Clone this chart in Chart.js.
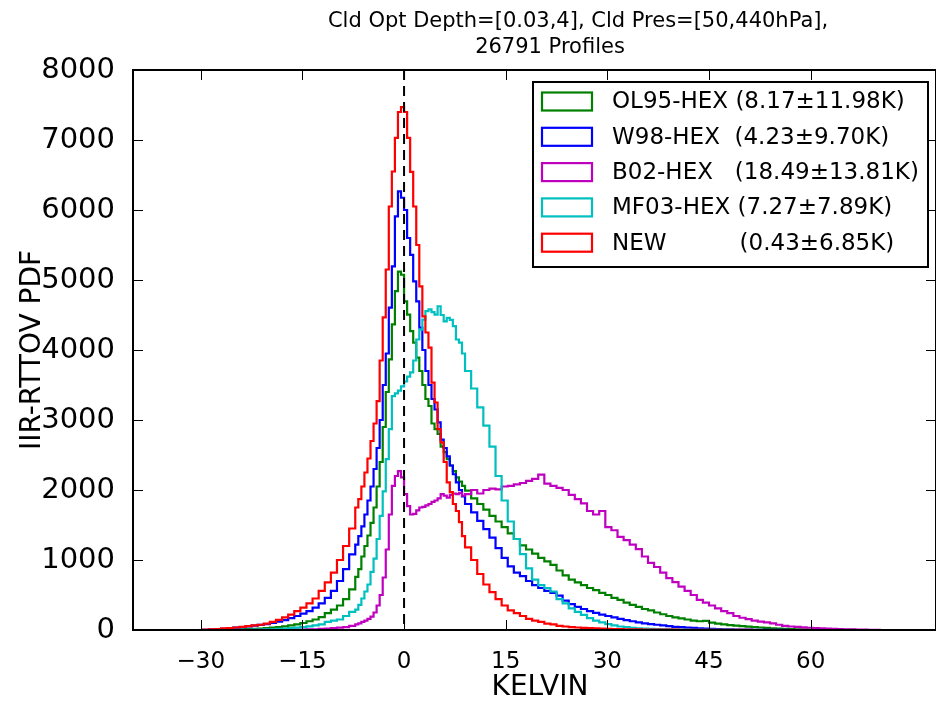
<!doctype html>
<html>
<head>
<script src="https://cdn.jsdelivr.net/npm/chart.js@4"></script>
<style>
  html, body { margin: 0; padding: 0; background: #fff; overflow: hidden; }
  #wrap { width: 936px; height: 702px; }
</style>
</head>
<body>
<div id="wrap"><canvas id="canvas" width="936" height="702"></canvas></div>
<script>
// bin edges (K): coarse tails, fine core
const binEdges = [
  -29.7, -28.8, -27.9, -27, -26.1, -25.2, -24.3, -23.4, -22.5, -21.6, -20.7, -19.8, -18.9,
  -18, -17.1, -16.2, -15.3, -14.4, -13.5, -12.6, -11.7, -10.8, -9.9, -9, -8.1,
  -7.2, -6.75, -6.3, -5.85, -5.4, -4.95, -4.5, -4.05, -3.6, -3.15, -2.7, -2.25,
  -1.8, -1.35, -0.9, -0.45, 0, 0.45, 0.9, 1.35, 1.8, 2.25, 2.7, 3.15, 3.6, 4.05,
  4.5, 4.95, 5.4, 5.85, 6.3, 6.75, 7.2, 7.65, 8.1, 8.55,
  9, 9.9, 10.8, 11.7, 12.6, 13.5, 14.4, 15.3, 16.2, 17.1, 18, 18.9, 19.8, 20.7,
  21.6, 22.5, 23.4, 24.3, 25.2, 26.1, 27, 27.9, 28.8, 29.7, 30.6, 31.5, 32.4,
  33.3, 34.2, 35.1, 36, 36.9, 37.8, 38.7, 39.6, 40.5, 41.4, 42.3, 43.2, 44.1,
  45, 45.9, 46.8, 47.7, 48.6, 49.5, 50.4, 51.3, 52.2, 53.1, 54, 54.9, 55.8,
  56.7, 57.6, 58.5, 59.4, 60.3, 61.2, 62.1, 63, 63.9, 64.8, 65.7, 66.6, 67.5,
  68.4, 69.3, 70.2
];

const ol95 = [
  0, 1, 2, 3, 4, 6, 9, 12, 16, 21, 27, 34, 42, 52, 65, 80, 100, 125, 150, 185, 240, 290, 350, 440, 580,
  760, 870, 1050, 1200, 1350, 1530, 1750, 2050, 2400, 2900, 3400, 3865, 4365, 4840, 5120, 5075,
  4695, 4505, 4270, 4105, 3890, 3700, 3500, 3300, 3200, 2950, 2870, 2800, 2620, 2540, 2440, 2350,
  2270, 2180, 2120, 2060,
  1990, 1880, 1800, 1720, 1630, 1550, 1470, 1380, 1300, 1210, 1150, 1090, 1030, 980, 930, 850,
  780, 720, 680, 640, 600, 570, 530, 500, 460, 430, 390, 360, 330, 300, 280, 250, 225, 200, 180,
  165, 150, 135, 125, 130, 105, 90, 80, 70, 62, 55, 48, 42, 36, 30, 25, 21, 17, 14, 11, 9, 7, 5,
  4, 3, 2, 2, 1, 1, 0, 0, 0, 0
];

const w98 = [
  3, 7, 12, 18, 25, 33, 42, 52, 62, 72, 85, 100, 120, 140, 170, 200, 235, 270, 320, 380, 460, 560, 700, 870, 1080,
  1220, 1340, 1480, 1650, 1850, 2050, 2300, 2600, 3000, 3500, 3950, 4605, 5195, 5910, 6265, 6175,
  6000, 5600, 5360, 4980, 4695, 4320, 4000, 3700, 3500, 3300, 3150, 2965, 2720, 2600, 2480, 2350,
  2225, 2110, 2000, 1910,
  1800, 1680, 1560, 1440, 1320, 1170, 1030, 910, 820, 770, 700, 640, 600, 560, 530, 490, 420, 370,
  330, 300, 270, 245, 220, 200, 180, 160, 140, 125, 110, 95, 85, 75, 65, 55, 45, 40, 35, 30, 25,
  20, 16, 13, 10, 8, 6, 5, 4, 3, 2, 2, 1, 1, 1, 0, 0, 0, 0, 0, 0, 0, 0, 0, 0, 0, 0, 0, 0, 0
];

const b02 = [
  0, 0, 0, 0, 0, 0, 0, 0, 1, 1, 1, 1, 2, 2, 3, 4, 6, 8, 11, 15, 20, 26, 33, 42, 60,
  80, 95, 115, 135, 160, 190, 250, 350, 500, 750, 1150, 1650, 2060, 2200, 2270, 2180,
  1940, 1770, 1650, 1660, 1710, 1750, 1760, 1780, 1800, 1830, 1850, 1880, 1940, 1920, 1890, 1930,
  1950, 1940, 1960, 1920,
  1940, 2000, 1950, 2000, 2020, 2010, 2050, 2060, 2080, 2100, 2130, 2160, 2220, 2090, 2060, 2030,
  2000, 1930, 1870, 1810, 1700, 1650, 1700, 1470, 1425, 1330, 1285, 1220, 1155, 1050, 960, 900,
  820, 740, 685, 620, 560, 500, 430, 390, 350, 310, 270, 240, 200, 175, 155, 135, 120, 110, 95,
  75, 60, 50, 45, 38, 32, 28, 24, 20, 17, 14, 11, 8, 6, 4, 2, 1
];

const mf03 = [
  0, 0, 0, 0, 1, 1, 2, 3, 4, 6, 8, 11, 15, 20, 26, 33, 42, 52, 65, 80, 115, 135, 150, 200, 260,
  290, 360, 450, 550, 650, 830, 1020, 1300, 1630, 1980, 2440, 2870, 3340, 3380, 3420, 3480,
  3550, 3620, 3680, 3850, 4150, 4290, 4435, 4555, 4580, 4540, 4505, 4625, 4500, 4410, 4460, 4430,
  4340, 4150, 4105, 3950,
  3700, 3450, 3180, 2920, 2620, 2200, 1850, 1550, 1300, 1085, 880, 720, 640, 600, 550, 440, 380,
  310, 260, 215, 170, 135, 110, 85, 65, 50, 40, 32, 25, 20, 16, 12, 10, 8, 6, 5, 4, 3, 2, 2,
  1, 1, 1, 1, 0, 0, 0, 0, 0, 0, 0, 0, 0, 0, 0, 0, 0, 0, 0, 0, 0, 0, 0, 0, 0, 0, 0, 0
];

const newScheme = [
  4, 8, 14, 22, 28, 36, 45, 55, 65, 75, 90, 115, 145, 180, 220, 270, 320, 380, 450, 560, 680, 820, 1000, 1200, 1450,
  1750, 1870, 2050, 2250, 2450, 2700, 2950, 3270, 3850, 4465, 5150, 6050, 6550, 7030, 7400, 7470,
  7400, 7030, 6545, 6050, 5500, 4910, 4480, 4250, 4035, 3535, 3250, 2870, 2680, 2400, 2110, 1970,
  1800, 1700, 1540, 1340,
  1180, 1000, 800, 650, 540, 440, 350, 280, 240, 200, 160, 135, 115, 90, 80, 60, 50, 42, 36, 30,
  26, 22, 19, 16, 14, 12, 10, 9, 8, 7, 6, 5, 5, 4, 4, 3, 3, 2, 2, 2, 1, 1, 1, 1, 1, 1, 1, 0, 0, 0,
  0, 0, 0, 0, 0, 0, 0, 0, 0, 0, 0, 0, 0, 0, 0, 0, 0, 0
];

const seriesValues = [ol95, w98, b02, mf03, newScheme];
const seriesColors = ['#008000', '#0000ff', '#bf00bf', '#00bfbf', '#ff0000'];
const legendLabels = [
  'OL95-HEX (8.17\u00b111.98K)',
  'W98-HEX  (4.23\u00b19.70K)',
  'B02-HEX   (18.49\u00b113.81K)',
  'MF03-HEX (7.27\u00b17.89K)',
  'NEW          (0.43\u00b16.85K)'
];
const xTicks = [-30, -15, 0, 15, 30, 45, 60];
const titleLines = ['Cld Opt Depth=[0.03,4], Cld Pres=[50,440hPa],', '26791 Profiles'];
const xLabel = 'KELVIN';
const yLabel = 'IIR-RTTOV PDF';

const FONT = "'DejaVu Sans', sans-serif";

// histogram outline: start at 0, one point per bin, drop to 0 at last edge
function stepPoints(values) {
  const pts = [{ x: binEdges[0], y: 0 }];
  values.forEach((v, i) => pts.push({ x: binEdges[i], y: v }));
  pts.push({ x: binEdges[values.length], y: 0 });
  return pts;
}

const decor = {
  id: 'decor',
  afterDatasetsDraw(chart) {
    const { ctx, chartArea: a, scales } = chart;
    const x0 = scales.x.getPixelForValue(0);
    ctx.save();
    ctx.strokeStyle = '#000';
    ctx.lineWidth = 2;
    ctx.setLineDash([10, 6]);
    ctx.beginPath();
    ctx.moveTo(x0, a.top);
    ctx.lineTo(x0, a.bottom);
    ctx.stroke();
    ctx.restore();
  },
  afterDraw(chart) {
    const { ctx, chartArea: a, scales } = chart;
    ctx.save();
    // ticks pointing inward, all four sides (right side falls off the canvas)
    ctx.strokeStyle = '#000';
    ctx.lineWidth = 1;
    ctx.beginPath();
    xTicks.forEach(v => {
      const px = Math.round(scales.x.getPixelForValue(v)) + 0.5;
      ctx.moveTo(px, a.bottom); ctx.lineTo(px, a.bottom - 10);
      ctx.moveTo(px, a.top); ctx.lineTo(px, a.top + 10);
    });
    scales.y.ticks.forEach(t => {
      const py = Math.round(scales.y.getPixelForValue(t.value)) + 0.5;
      ctx.moveTo(a.left, py); ctx.lineTo(a.left + 10, py);
      ctx.moveTo(a.right, py); ctx.lineTo(a.right - 10, py);
    });
    ctx.stroke();
    // frame
    ctx.lineWidth = 2;
    ctx.strokeRect(a.left, a.top, a.right - a.left, a.bottom - a.top);

    // title
    ctx.fillStyle = '#000';
    ctx.font = '21px ' + FONT;
    ctx.textAlign = 'center';
    ctx.textBaseline = 'middle';
    ctx.fillText(titleLines[0], 578, 22);
    ctx.fillText(titleLines[1], 550, 48);

    // axis titles
    ctx.font = '28px ' + FONT;
    ctx.fillText(xLabel, 540, 688);
    ctx.save();
    ctx.translate(33, 350);
    ctx.rotate(-Math.PI / 2);
    ctx.fillText(yLabel, 0, 0);
    ctx.restore();

    // legend
    const lx = 533, ly = 82, lw = 395, lh = 185;
    ctx.fillStyle = '#fff';
    ctx.fillRect(lx, ly, lw, lh);
    ctx.lineWidth = 2;
    ctx.strokeStyle = '#000';
    ctx.strokeRect(lx, ly, lw, lh);
    ctx.font = '23px ' + FONT;
    ctx.textAlign = 'left';
    legendLabels.forEach((lab, i) => {
      const cy = 101.5 + i * 35.3;
      ctx.strokeStyle = seriesColors[i];
      ctx.lineWidth = 2.2;
      ctx.strokeRect(542, cy - 9, 50, 18);
      ctx.fillStyle = '#000';
      ctx.fillText(lab, 612, cy + 1);
    });
    ctx.restore();
  }
};

new Chart(document.getElementById('canvas').getContext('2d'), {
  type: 'line',
  data: {
    datasets: seriesValues.map((vals, i) => ({
      label: legendLabels[i],
      data: stepPoints(vals),
      borderColor: seriesColors[i],
      borderWidth: 2.2,
      pointRadius: 0,
      fill: false,
      stepped: 'before',
      order: seriesValues.length - i
    }))
  },
  options: {
    responsive: false,
    animation: false,
    devicePixelRatio: 1,
    layout: { padding: { top: 70, right: -3, left: 0, bottom: 0 } },
    plugins: { legend: { display: false }, tooltip: { enabled: false } },
    scales: {
      x: {
        type: 'linear',
        min: -40,
        max: 78.5,
        grid: { display: false },
        border: { display: false },
        afterBuildTicks: s => { s.ticks = xTicks.map(v => ({ value: v })); },
        afterFit: s => { s.height = 72; },
        ticks: {
          padding: 10,
          color: '#000',
          font: { family: FONT, size: 23 },
          maxRotation: 0,
          callback: v => (v < 0 ? '\u2212' + Math.abs(v) : String(v))
        }
      },
      y: {
        min: 0,
        max: 8000,
        grid: { display: false },
        border: { display: false },
        afterFit: s => { s.width = 133; },
        ticks: {
          stepSize: 1000,
          padding: 10,
          color: '#000',
          font: { family: FONT, size: 29 },
          callback: v => String(v)
        }
      }
    }
  },
  plugins: [decor]
});
</script>
</body>
</html>
